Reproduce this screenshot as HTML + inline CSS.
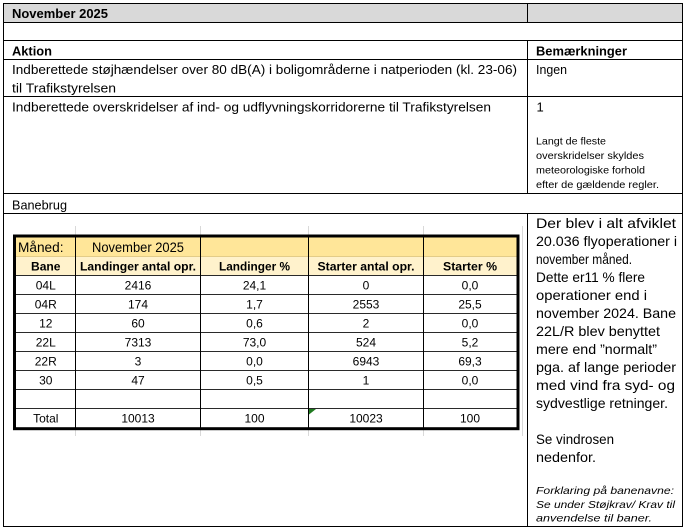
<!DOCTYPE html>
<html><head><meta charset="utf-8">
<style>
html,body{margin:0;padding:0;background:#fff;}
svg{display:block;}
text{font-family:"Liberation Sans",sans-serif;fill:#000;}
</style></head>
<body>
<svg width="686" height="530" viewBox="0 0 686 530" xmlns="http://www.w3.org/2000/svg">
<rect width="686" height="530" fill="#fff"/>
<!-- header gray row -->
<rect x="3.5" y="3.5" width="679" height="19" fill="#d9d9d9"/>

<!-- outer table lines -->
<g stroke="#000" stroke-width="1" shape-rendering="crispEdges" fill="none">
  <rect x="3.5" y="3.5" width="679" height="523"/>
  <line x1="3.5" y1="22.5" x2="682.5" y2="22.5"/>
  <line x1="3.5" y1="40.5" x2="682.5" y2="40.5"/>
  <line x1="3.5" y1="59.5" x2="682.5" y2="59.5"/>
  <line x1="3.5" y1="96.5" x2="682.5" y2="96.5"/>
  <line x1="3.5" y1="193.5" x2="682.5" y2="193.5"/>
  <line x1="3.5" y1="213.5" x2="682.5" y2="213.5"/>
  <line x1="527.5" y1="3.5" x2="527.5" y2="22.5"/>
  <line x1="527.5" y1="40.5" x2="527.5" y2="193.5"/>
  <line x1="527.5" y1="213.5" x2="527.5" y2="526.5"/>
</g>

<!-- outer texts -->
<text x="12" y="18" font-size="13" font-weight="bold" textLength="96" lengthAdjust="spacingAndGlyphs">November 2025</text>
<text x="12" y="55.5" font-size="13" font-weight="bold" textLength="40" lengthAdjust="spacingAndGlyphs">Aktion</text>
<text x="536" y="55.5" font-size="13" font-weight="bold" textLength="91" lengthAdjust="spacingAndGlyphs">Bemærkninger</text>
<text x="12" y="74" font-size="13" textLength="505" lengthAdjust="spacingAndGlyphs">Indberettede støjhændelser over 80 dB(A) i boligområderne i natperioden (kl. 23-06)</text>
<text x="12" y="92.5" font-size="13" textLength="104" lengthAdjust="spacingAndGlyphs">til Trafikstyrelsen</text>
<text x="536" y="74" font-size="13" textLength="31" lengthAdjust="spacingAndGlyphs">Ingen</text>
<text x="12" y="111.5" font-size="13" textLength="479" lengthAdjust="spacingAndGlyphs">Indberettede overskridelser af ind- og udflyvningskorridorerne til Trafikstyrelsen</text>
<text x="536.5" y="111.5" font-size="13">1</text>
<text x="536" y="144.7" font-size="10.3" textLength="70" lengthAdjust="spacingAndGlyphs">Langt de fleste</text>
<text x="536" y="159.2" font-size="10.3" textLength="108" lengthAdjust="spacingAndGlyphs">overskridelser skyldes</text>
<text x="536" y="173.7" font-size="10.3" textLength="109" lengthAdjust="spacingAndGlyphs">meteorologiske forhold</text>
<text x="536" y="188.2" font-size="10.3" textLength="123" lengthAdjust="spacingAndGlyphs">efter de gældende regler.</text>
<text x="12" y="209.5" font-size="13" textLength="55" lengthAdjust="spacingAndGlyphs">Banebrug</text>

<!-- right column paragraph -->
<g font-size="14">
<text x="536" y="228" textLength="140" lengthAdjust="spacingAndGlyphs">Der blev i alt afviklet</text>
<text x="536" y="246" textLength="141" lengthAdjust="spacingAndGlyphs">20.036 flyoperationer i</text>
<text x="536" y="264" textLength="96" lengthAdjust="spacingAndGlyphs">november måned.</text>
<text x="536" y="282" textLength="109" lengthAdjust="spacingAndGlyphs">Dette er11 % flere</text>
<text x="536" y="300" textLength="111" lengthAdjust="spacingAndGlyphs">operationer end i</text>
<text x="536" y="318" textLength="140" lengthAdjust="spacingAndGlyphs">november 2024.  Bane</text>
<text x="536" y="336" textLength="124" lengthAdjust="spacingAndGlyphs">22L/R blev benyttet</text>
<text x="536" y="354" textLength="121" lengthAdjust="spacingAndGlyphs">mere end ”normalt”</text>
<text x="536" y="372" textLength="140" lengthAdjust="spacingAndGlyphs">pga. af lange perioder</text>
<text x="536" y="390" textLength="139" lengthAdjust="spacingAndGlyphs">med vind fra syd- og</text>
<text x="536" y="408" textLength="132" lengthAdjust="spacingAndGlyphs">sydvestlige retninger.</text>
<text x="536" y="444" textLength="78" lengthAdjust="spacingAndGlyphs">Se vindrosen</text>
<text x="536" y="462" textLength="60" lengthAdjust="spacingAndGlyphs">nedenfor.</text>
</g>
<g font-size="10.5" font-style="italic">
<text x="536" y="493.8" textLength="138" lengthAdjust="spacingAndGlyphs">Forklaring på banenavne:</text>
<text x="536" y="507.8" textLength="139" lengthAdjust="spacingAndGlyphs">Se under Støjkrav/ Krav til</text>
<text x="536" y="521.3" textLength="116" lengthAdjust="spacingAndGlyphs">anvendelse til baner.</text>
</g>

<!-- faint excel gridlines -->
<g stroke="#d9d9d9" stroke-width="1" shape-rendering="crispEdges">
  <line x1="75.5" y1="226" x2="75.5" y2="235"/>
  <line x1="200.5" y1="226" x2="200.5" y2="235"/>
  <line x1="308.5" y1="226" x2="308.5" y2="235"/>
  <line x1="423.5" y1="226" x2="423.5" y2="235"/>
  <line x1="75.5" y1="430" x2="75.5" y2="436"/>
  <line x1="200.5" y1="430" x2="200.5" y2="436"/>
  <line x1="308.5" y1="430" x2="308.5" y2="436"/>
  <line x1="423.5" y1="430" x2="423.5" y2="436"/>
  <line x1="522.5" y1="226" x2="522.5" y2="436"/>
</g>

<!-- inner excel table -->
<rect x="16" y="237.5" width="500.5" height="19" fill="#ffe699"/>
<rect x="16" y="256.5" width="500.5" height="19" fill="#fff2cc"/>
<g stroke="#e3cc88" stroke-width="1" shape-rendering="crispEdges">
  <line x1="16" y1="256.5" x2="516.5" y2="256.5"/>
</g>
<g stroke="#2a2a2a" stroke-width="1" shape-rendering="crispEdges">
  <line x1="16" y1="275.5" x2="516.5" y2="275.5"/>
  <line x1="16" y1="294.5" x2="516.5" y2="294.5"/>
  <line x1="16" y1="313.5" x2="516.5" y2="313.5"/>
  <line x1="16" y1="332.5" x2="516.5" y2="332.5"/>
  <line x1="16" y1="351.5" x2="516.5" y2="351.5"/>
  <line x1="16" y1="370.5" x2="516.5" y2="370.5"/>
  <line x1="16" y1="389.5" x2="516.5" y2="389.5"/>
  <line x1="16" y1="408.5" x2="516.5" y2="408.5"/>
</g>
<g stroke="#000" stroke-width="1" shape-rendering="crispEdges">
  <line x1="75.5" y1="237" x2="75.5" y2="428"/>
  <line x1="200.5" y1="237" x2="200.5" y2="428"/>
  <line x1="308.5" y1="237" x2="308.5" y2="428"/>
  <line x1="423.5" y1="237" x2="423.5" y2="428"/>
</g>
<rect x="14.5" y="236" width="503.5" height="192.7" fill="none" stroke="#000" stroke-width="3"/>
<polygon points="309,409 316,409 309,414.5" fill="#1f7a1f"/>

<text x="18" y="251.8" font-size="13.5" textLength="45.5" lengthAdjust="spacingAndGlyphs">Måned:</text>
<text x="138" y="251.8" font-size="13.5" text-anchor="middle" textLength="92" lengthAdjust="spacingAndGlyphs">November 2025</text>

<g font-size="12" font-weight="bold" text-anchor="middle">
<text x="45.75" y="270.3" textLength="29.5" lengthAdjust="spacingAndGlyphs">Bane</text>
<text x="138" y="270.3" textLength="116" lengthAdjust="spacingAndGlyphs">Landinger antal opr.</text>
<text x="254.5" y="270.3" textLength="71" lengthAdjust="spacingAndGlyphs">Landinger %</text>
<text x="366" y="270.3" textLength="97" lengthAdjust="spacingAndGlyphs">Starter antal opr.</text>
<text x="470" y="270.3" textLength="54" lengthAdjust="spacingAndGlyphs">Starter %</text>
</g>

<g font-size="12" text-anchor="middle">
<text x="45.75" y="289.3">04L</text><text x="138" y="289.3">2416</text><text x="254.5" y="289.3">24,1</text><text x="366" y="289.3">0</text><text x="470" y="289.3">0,0</text>
<text x="45.75" y="308.3">04R</text><text x="138" y="308.3">174</text><text x="254.5" y="308.3">1,7</text><text x="366" y="308.3">2553</text><text x="470" y="308.3">25,5</text>
<text x="45.75" y="327.3">12</text><text x="138" y="327.3">60</text><text x="254.5" y="327.3">0,6</text><text x="366" y="327.3">2</text><text x="470" y="327.3">0,0</text>
<text x="45.75" y="346.3">22L</text><text x="138" y="346.3">7313</text><text x="254.5" y="346.3">73,0</text><text x="366" y="346.3">524</text><text x="470" y="346.3">5,2</text>
<text x="45.75" y="365.3">22R</text><text x="138" y="365.3">3</text><text x="254.5" y="365.3">0,0</text><text x="366" y="365.3">6943</text><text x="470" y="365.3">69,3</text>
<text x="45.75" y="384.3">30</text><text x="138" y="384.3">47</text><text x="254.5" y="384.3">0,5</text><text x="366" y="384.3">1</text><text x="470" y="384.3">0,0</text>
<text x="45.75" y="422.3">Total</text><text x="138" y="422.3">10013</text><text x="254.5" y="422.3">100</text><text x="366" y="422.3">10023</text><text x="470" y="422.3">100</text>
</g>
</svg>
</body></html>
